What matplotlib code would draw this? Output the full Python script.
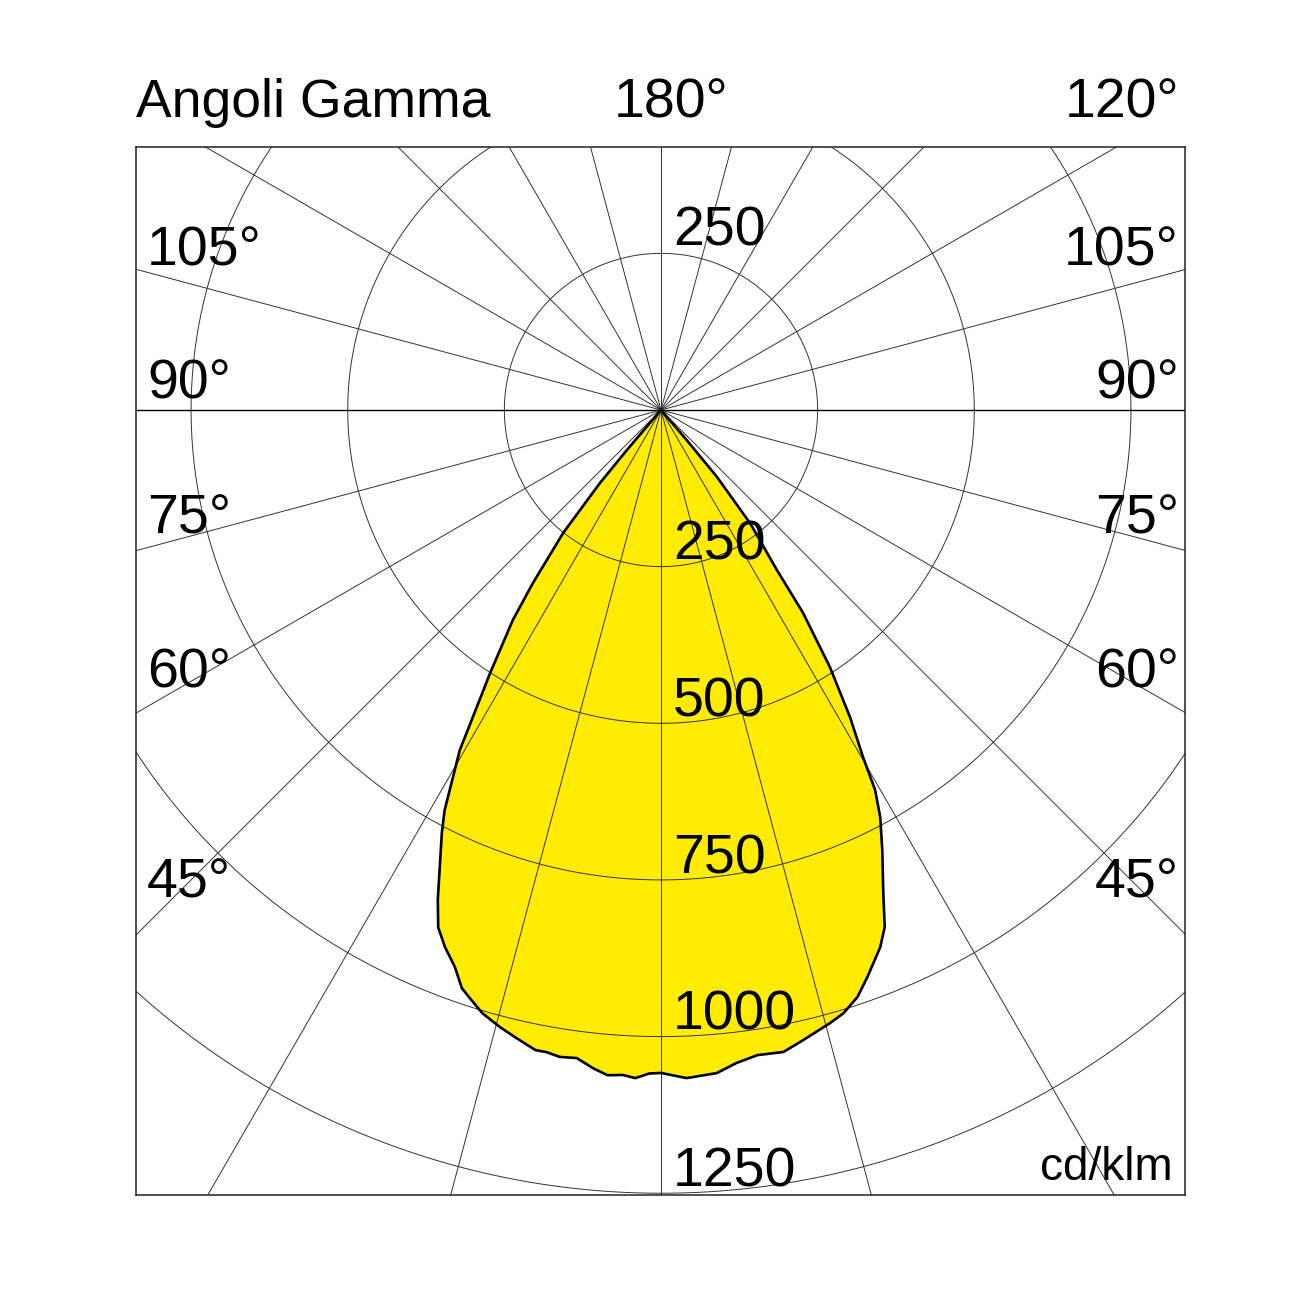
import numpy as np
import matplotlib
matplotlib.use("Agg")
import matplotlib.pyplot as plt

# photometric curve, gamma angle (deg from nadir) and intensity in cd/klm
gamma_left = [0, 1.0, 2.2, 3.3, 4.6, 5.9, 7.4, 8.9, 10.1, 11.1, 12.9, 14.6, 16.5, 18.0,
              19.0, 20.3, 21.9, 23.3, 24.5, 27.4, 28.4, 30.6, 31.8, 33.0, 35.2, 36.5,
              38.5, 39.9, 40.4, 42]
cd_left = [1058, 1059, 1067, 1063, 1065, 1056, 1043, 1045, 1041, 1041, 1029, 1018, 1004, 987,
           976, 948, 924, 899, 859, 760, 726, 631, 558, 501, 410, 344,
           251, 152, 84, 0]
gamma_right = [0, 2.2, 4.8, 6.6, 8.5, 10.8, 12.7, 15.4, 16.8, 18.5, 20.0, 22.2, 23.4, 24.7,
               26.7, 28.3, 29.4, 30.2, 31.6, 33.3, 35.0, 35.9, 38.2, 39.9, 40.5, 42]
cd_right = [1058, 1067, 1062, 1049, 1041, 1043, 1031, 1015, 1006, 988, 963, 926, 899, 849,
            786, 738, 696, 641, 576, 491, 395, 316, 230, 139, 60, 0]

rings = [250, 500, 750, 1000, 1250]
spokes = np.arange(0, 360, 15)
left_labels = ["105°", "90°", "75°", "60°", "45°"]
right_labels = ["105°", "90°", "75°", "60°", "45°"]
label_rows = [265, 399, 533, 688, 898]  # baseline, px from top

plt.rcParams['font.family'] = ['Liberation Sans', 'DejaVu Sans']

W = 1302
fig = plt.figure(figsize=(13.02, 13.02), dpi=100)
ax = fig.add_axes([136 / W, (W - 1195) / W, 1049 / W, 1048 / W])
ax.set_xlim(-837.9, 836.3)
ax.set_ylim(-1252.8, 419.7)
ax.set_xticks([])
ax.set_yticks([])
for s in ax.spines.values():
    s.set_linewidth(1.1)
    s.set_color("#222222")

# yellow curve
gl = np.radians(gamma_left)
gr = np.radians(gamma_right)
xs = np.concatenate([-np.array(cd_left)[::-1] * np.sin(gl[::-1]),
                     np.array(cd_right) * np.sin(gr)])
ys = np.concatenate([-np.array(cd_left)[::-1] * np.cos(gl[::-1]),
                     -np.array(cd_right) * np.cos(gr)])
ax.fill(xs, ys, color="#FFEC00", zorder=1)

# grid
t = np.linspace(0, 2 * np.pi, 720)
for r in rings:
    ax.plot(r * np.cos(t), r * np.sin(t), color="#333333", lw=0.7, zorder=2)
for a in spokes:
    ar = np.radians(a)
    ax.plot([0, 3000 * np.sin(ar)], [0, 3000 * np.cos(ar)], color="#333333", lw=0.7, zorder=2)
ax.axhline(0, color="black", lw=1.0, zorder=2)

ax.plot(xs, ys, color="black", lw=1.9, zorder=3, solid_joinstyle="round")

# ring labels
fs = 40
for r in rings:
    ax.text(19, -r + 11, str(r), fontsize=fs, ha="left", va="baseline", zorder=4)
ax.text(19, rings[0] + 12, str(rings[0]), fontsize=fs, ha="left", va="baseline", zorder=4)

# angle labels
for lab, row in zip(left_labels, label_rows):
    fig.text(147 / W, 1 - row / W, lab, fontsize=fs, ha="left", va="baseline")
for lab, row in zip(right_labels, label_rows):
    fig.text(1179 / W, 1 - row / W, lab, fontsize=fs, ha="right", va="baseline")

fig.text(136 / W, 1 - 117 / W, "Angoli Gamma", fontsize=38.5, ha="left", va="baseline")
fig.text(671 / W, 1 - 117 / W, "180°", fontsize=fs, ha="center", va="baseline")
fig.text(1179 / W, 1 - 117 / W, "120°", fontsize=fs, ha="right", va="baseline")
fig.text(1173 / W, 1 - 1180 / W, "cd/klm", fontsize=33, ha="right", va="baseline")

fig.savefig("out.png", dpi=100, facecolor="white")
